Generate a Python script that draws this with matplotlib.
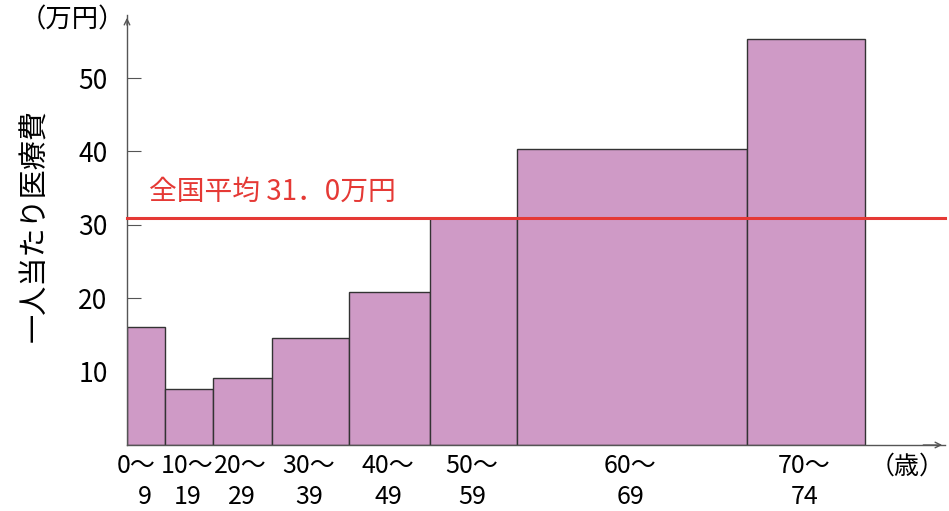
import numpy as np
import matplotlib.pyplot as plt

plt.rcParams['font.family'] = ['Noto Sans CJK JP', 'DejaVu Sans']

# age groups, relative bar widths and per-capita medical cost (10k yen)
age_from = ['0〜', '10〜', '20〜', '30〜', '40〜', '50〜', '60〜', '70〜']
age_to = ['9', '19', '29', '39', '49', '59', '69', '74']
widths = [38, 48, 59, 77, 81, 87, 230, 118]
cost = [16.1, 7.6, 9.1, 14.6, 20.8, 30.9, 40.3, 55.3]
national_avg = 31.0

lefts = np.concatenate([[0], np.cumsum(widths)[:-1]])
centers = lefts + np.array(widths) / 2

fig = plt.figure(figsize=(9.49, 5.11), dpi=100)
ax = fig.add_axes([127 / 949, 66 / 511, 818 / 949, 430 / 511])
ax.set_xlim(0, 818)
ax.set_ylim(0, 58.6)

ax.bar(lefts, cost, width=widths, align='edge', color='#CF9AC6',
       edgecolor='#333333', linewidth=1.0, zorder=2)

ax.axhline(national_avg, color='#E53935', linewidth=2.2, zorder=3, clip_on=False)
ax.text(22, national_avg + 1.5, '全国平均 31．0万円', color='#E53935',
        fontsize=20, va='bottom', ha='left')

for s in ['top', 'right']:
    ax.spines[s].set_visible(False)
for s in ['left', 'bottom']:
    ax.spines[s].set_color('#555555')
    ax.spines[s].set_linewidth(1.0)

# arrow heads on axes
ax.annotate('', xy=(0, 1.0), xytext=(0, 0.97), xycoords='axes fraction',
            arrowprops=dict(arrowstyle='->', color='#555555', lw=1.0))
ax.annotate('', xy=(1.0, 0), xytext=(0.97, 0), xycoords='axes fraction',
            arrowprops=dict(arrowstyle='->', color='#555555', lw=1.0))

ax.set_yticks([10, 20, 30, 40, 50])
ax.tick_params(axis='y', direction='in', length=10, color='#555555',
               labelsize=19, pad=14)
ax.set_xticks([])

# two-line age labels under each bar; the narrow first bar gets nudged left
for i, (c, a, b) in enumerate(zip(centers, age_from, age_to)):
    shift = -10 if i == 0 else -2
    ax.text(c + shift, -2.9, a, ha='center', va='center', fontsize=18)
    ax.text(c - 1, -7.1, b, ha='center', va='center', fontsize=18)

ax.text(780, -2.9, '（歳）', ha='center', va='center', fontsize=18)
ax.text(-2, 57.9, '（万円）', ha='right', va='center', fontsize=19)
fig.text(35 / 949, 1 - 225 / 511, '一人当たり医療費', rotation=90,
         ha='center', va='center', fontsize=21)

fig.savefig('out.png', dpi=100)
